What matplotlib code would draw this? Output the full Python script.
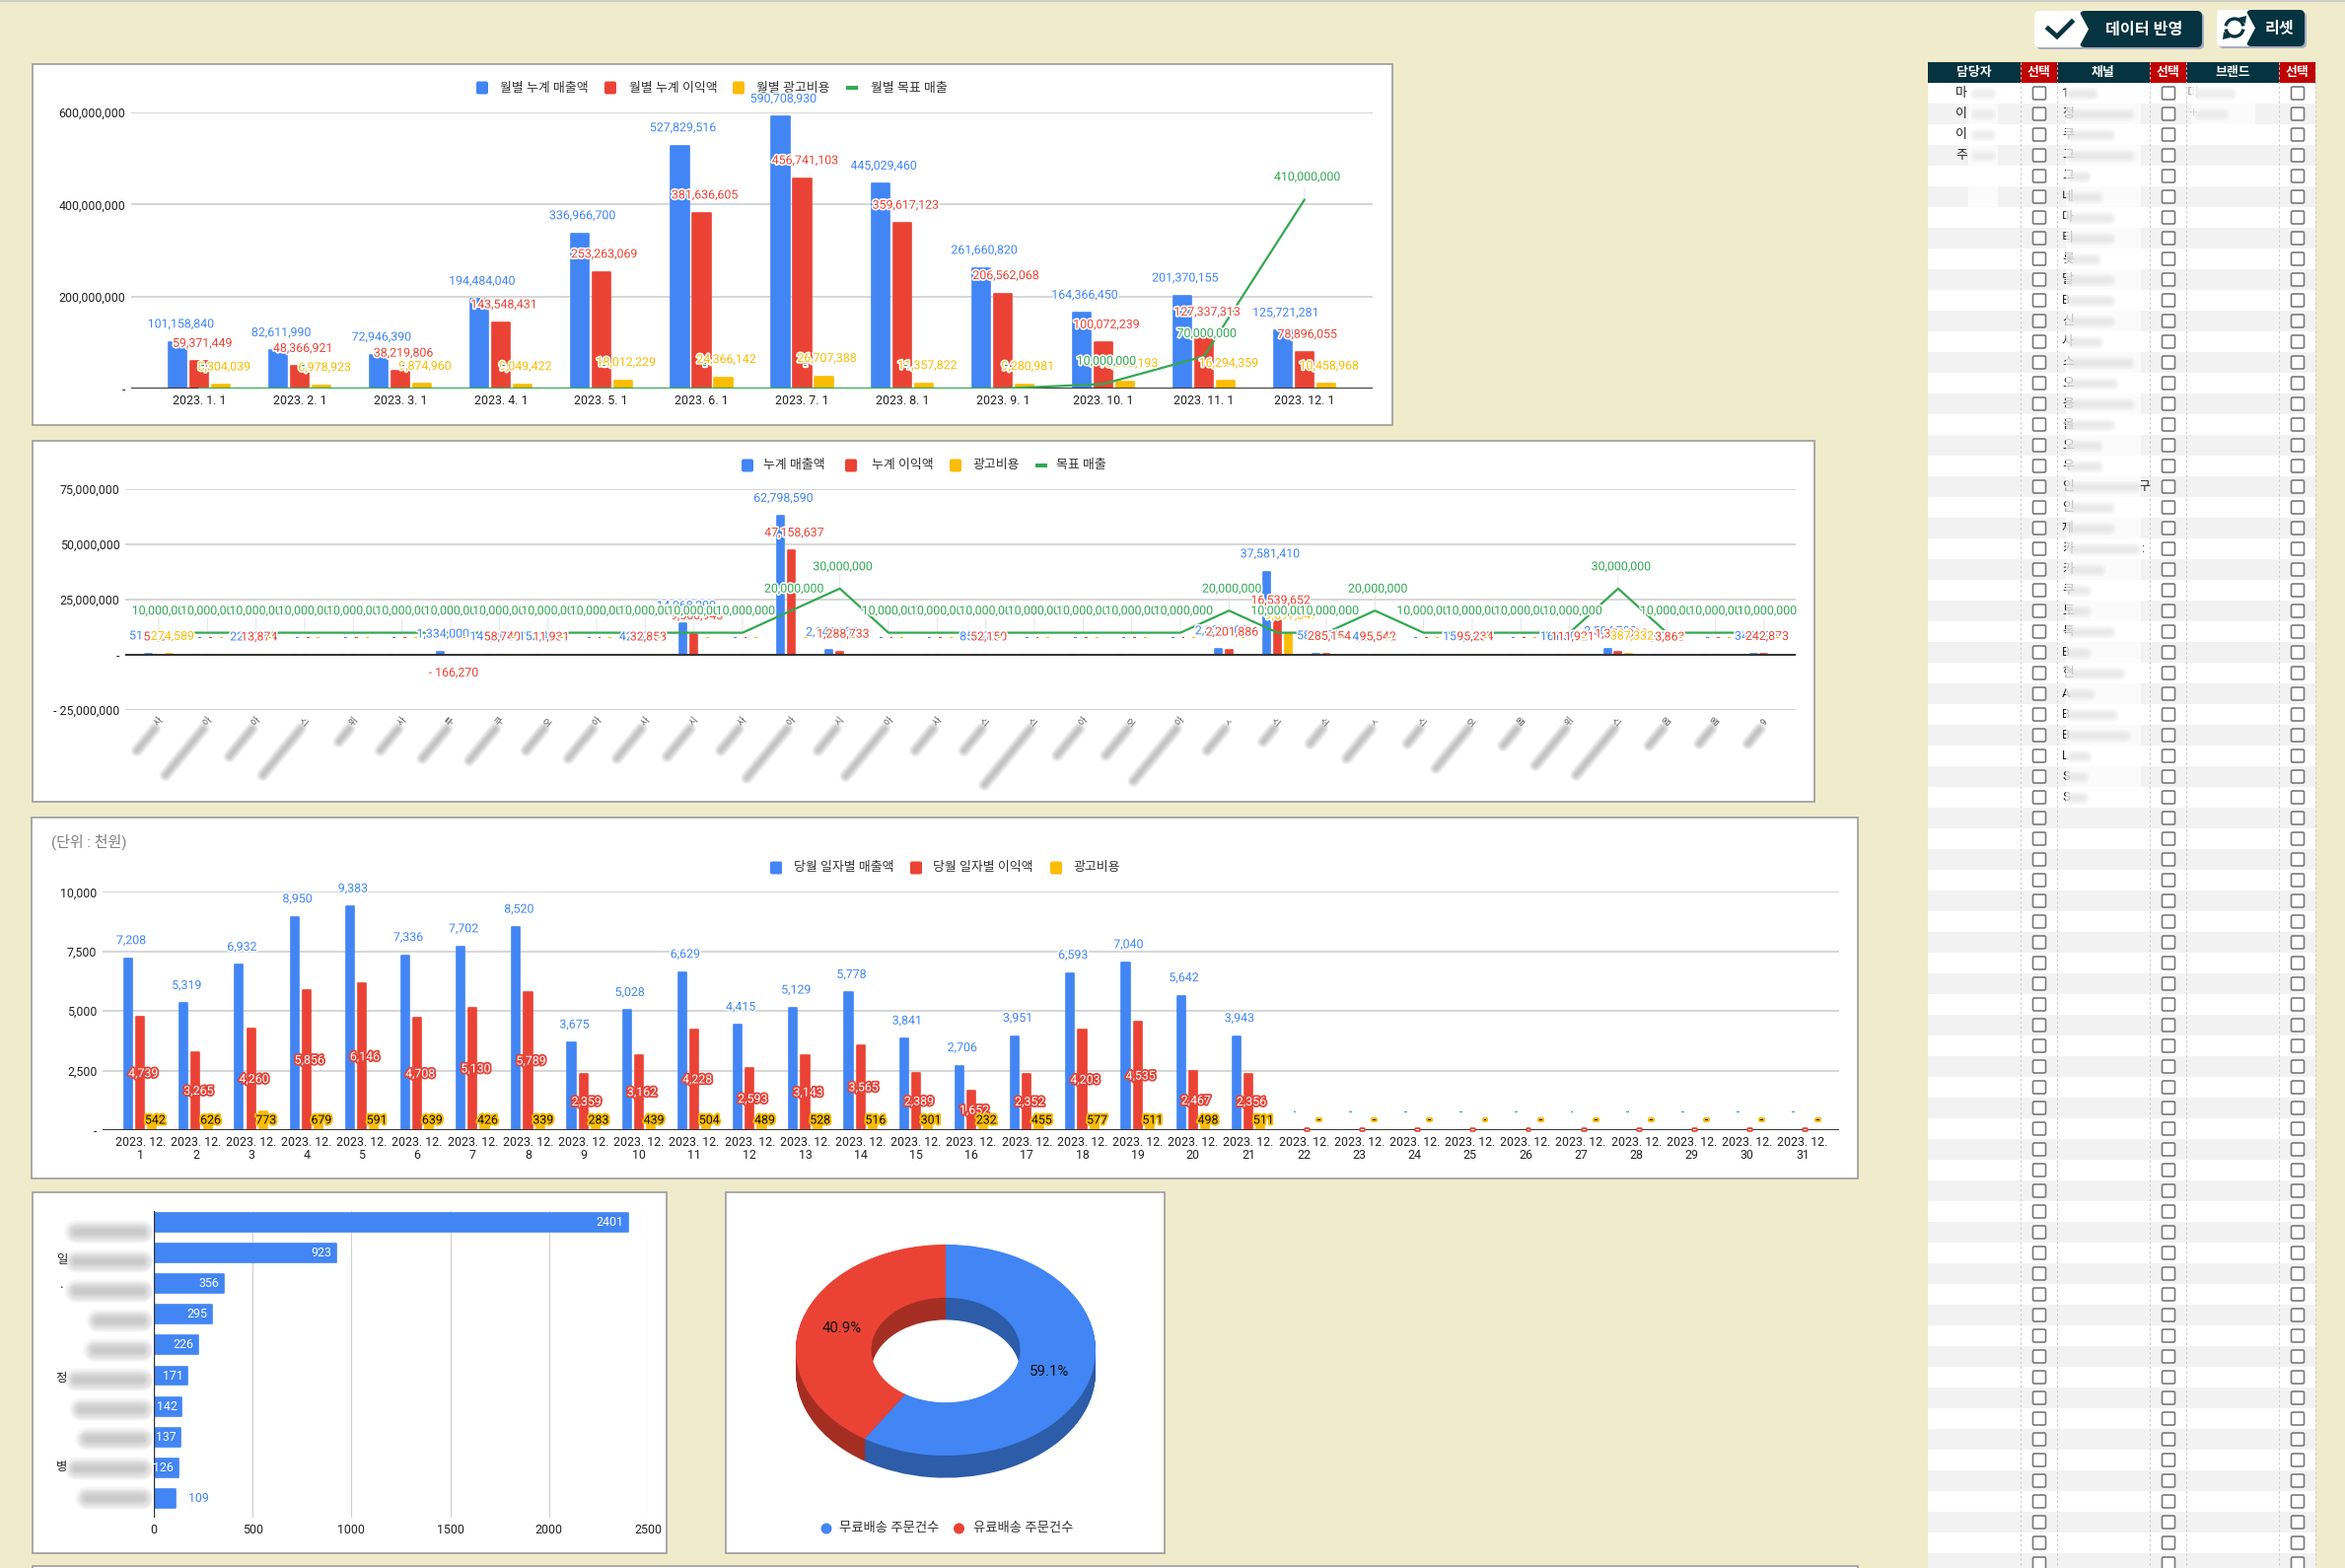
import numpy as np
import matplotlib
matplotlib.use('Agg')
import matplotlib.pyplot as plt
import matplotlib.patheffects as pe
from matplotlib.patches import Rectangle, FancyBboxPatch, Polygon, Arc, Circle

plt.rcParams['font.family'] = ['Roboto', 'Noto Sans CJK KR', 'DejaVu Sans']

# monthly chart
months = ['2023. 1. 1', '2023. 2. 1', '2023. 3. 1', '2023. 4. 1', '2023. 5. 1', '2023. 6. 1',
          '2023. 7. 1', '2023. 8. 1', '2023. 9. 1', '2023. 10. 1', '2023. 11. 1', '2023. 12. 1']
month_sales = [101158840, 82611990, 72946390, 194484040, 336966700, 527829516,
               590708930, 445029460, 261660820, 164366450, 201370155, 125721281]
month_profit = [59371449, 48366921, 38219806, 143548431, 253263069, 381636605,
                456741103, 359617123, 206562068, 100072239, 127337313, 78896055]
month_ads = [8304039, 6978923, 9874960, 9049422, 18012229, 24366142,
             26707388, 11357822, 9280981, 15800193, 16294359, 10458968]
month_target = [0, 0, 0, 0, 0, 0, 0, 0, 0, 10000000, 70000000, 410000000]

# channel chart (channel names are blurred in the source)
chan_sales = [519200, 0, 22300, 0, 0, 0, 1334000, 146200, 152400, 0, 42100, 14068200,
              0, 62798590, 2141650, 0, 0, 85200, 0, 0, 0, 0, 2801108, 37581410,
              583000, 4210, 0, 153400, 0, 161300, 2504700, 4900, 0, 342100]
chan_profit = [52310, 0, 13874, 0, 0, 0, -166270, 58740, 11931, 0, 32853, 9560943,
               0, 47158637, 1288733, 0, 0, 52150, 0, 0, 0, 0, 2201886, 16539652,
               285154, 95542, 0, 95234, 0, 111921, 1350000, 3863, 0, 242873]
chan_ads = [274589, 0, 0, 0, 0, 0, 0, 0, 0, 0, 0, 0,
            0, 0, 0, 0, 0, 0, 0, 0, 0, 0, 0, 9697347,
            0, 0, 0, 0, 0, 0, 387332, 0, 0, 0]
chan_target = [10000000, 10000000, 10000000, 10000000, 10000000, 10000000, 10000000, 10000000,
               10000000, 10000000, 10000000, 10000000, 10000000, 20000000, 30000000, 10000000,
               10000000, 10000000, 10000000, 10000000, 10000000, 10000000, 20000000, 10000000,
               10000000, 20000000, 10000000, 10000000, 10000000, 10000000, 30000000, 10000000,
               10000000, 10000000]
chan_tips = ['사', '아', '아', '스', '위', '사', '투', '쿠', '오', '아', '사', '시',
             '사', '아', '시', '아', '사', '스', '스', '아', '오', '아', 'ㅅ', '스',
             '소', 'ㅅ', '스', '오', '옴', '위', '스', '옴', '옴', '9']
chan_blur_len = [22, 47, 28, 47, 13, 22, 30, 32, 22, 30, 30, 28, 22, 50, 22, 48, 22, 22,
                 57, 27, 27, 53, 22, 13, 15, 30, 15, 40, 17, 37, 47, 17, 15, 15]

# daily chart
days = ['2023. 12.\n%d' % d for d in range(1, 32)]
day_sales = [7208, 5319, 6932, 8950, 9383, 7336, 7702, 8520, 3675, 5028, 6629, 4415, 5129, 5778, 3841, 2706,
             3951, 6593, 7040, 5642, 3943, 0, 0, 0, 0, 0, 0, 0, 0, 0, 0]
day_profit = [4739, 3265, 4260, 5856, 6146, 4708, 5130, 5789, 2359, 3162, 4228, 2593, 3143, 3565, 2389, 1652,
              2352, 4203, 4535, 2467, 2356, 0, 0, 0, 0, 0, 0, 0, 0, 0, 0]
day_ads = [542, 626, 773, 679, 591, 639, 426, 339, 283, 439, 504, 489, 528, 516, 301, 232,
           455, 577, 511, 498, 511, 0, 0, 0, 0, 0, 0, 0, 0, 0, 0]

# top products and delivery split
prod_counts = [2401, 923, 356, 295, 226, 171, 142, 137, 126, 109]
prod_blur_left = [69, 69, 69, 91, 88, 69, 74, 80, 69, 80]
delivery_counts = [59.1, 40.9]
delivery_names = ['무료배송 주문건수', '유료배송 주문건수']

# filter table
managers = ['마', '이', '이', '주']
channels = ['1', '정', '쿠', '그', '그', '네', '마', '티', '롯', '달', 'B', '신', '사', '스', '오', '용', '올', '오',
            '우', '인', '인', '제', '카', '카', '쿠', '토', '톡', 'B', '현', 'A', 'B', 'B', 'L', 'S', 'S']
channel_ends = [25, 62, 42, 62, 17, 30, 42, 42, 28, 42, 42, 42, 30, 62, 45, 62, 42, 30,
                30, 68, 42, 42, 68, 32, 18, 18, 42, 18, 53, 22, 45, 58, 18, 15, 15]

BLUE, RED, YEL, GREEN = '#4285F4', '#EA4335', '#FBBC04', '#34A853'
BG = '#F0EBCB'
DARK = '#05333F'
W, H = 2378, 1590
FS = 8.9
FS_LEG = 9.3

fig = plt.figure(figsize=(W / 100, H / 100), dpi=100, facecolor=BG)


def px_axes(x0, y0, x1, y1, zorder=2):
    ax = fig.add_axes([x0 / W, 1 - y1 / H, (x1 - x0) / W, (y1 - y0) / H], zorder=zorder)
    ax.patch.set_alpha(0)
    return ax


bg = px_axes(0, 0, W, H, zorder=1)
bg.set_xlim(0, W); bg.set_ylim(H, 0); bg.axis('off')
fg = px_axes(0, 0, W, H, zorder=5)
fg.set_xlim(0, W); fg.set_ylim(H, 0); fg.axis('off')


def fmt(v):
    if v == 0:
        return '-'
    if v < 0:
        return '- {:,}'.format(-v)
    return '{:,}'.format(v)


def label(ax, x, y, s, color, dy=18, dx=3, halo='white', lw=2.4, z=6):
    ax.annotate(s, (x, y), xytext=(dx, dy), textcoords='offset pixels', ha='center', va='center',
                fontsize=FS, color=color, annotation_clip=False, zorder=z,
                path_effects=[pe.withStroke(linewidth=lw, foreground=halo)])


def rbars(ax, x, h, w, color):
    # round join on the edge gives the soft corners of the source bars
    bars = ax.bar(x, h, w, color=color, edgecolor=color, linewidth=1.2, zorder=3)
    for b in bars:
        b.set_joinstyle('round')


def panel(x0, y0, x1, y1):
    bg.add_patch(Rectangle((x0, y0), x1 - x0, y1 - y0, fc='white', ec='#9C9C9C', lw=1.2, zorder=1))


def legend(items, y):
    for sx, tx, name, col in items:
        if col == GREEN:
            bg.add_patch(Rectangle((sx, y - 2), 12, 4, fc=col, ec='none', zorder=2))
        else:
            bg.add_patch(FancyBboxPatch((sx, y - 6.5), 12, 13, boxstyle='round,pad=0,rounding_size=2',
                                        fc=col, ec='none', zorder=2))
        bg.text(tx, y, name, fontsize=FS_LEG, color='#333333', va='center', ha='left', zorder=2)


def style_axes(ax, xlim, ylim, yticks, ylabels):
    ax.set_xlim(*xlim); ax.set_ylim(*ylim)
    ax.set_yticks(yticks); ax.set_yticklabels(ylabels)
    ax.tick_params(length=0, labelsize=FS, labelcolor='#222222', pad=4)
    ax.yaxis.grid(True, color='#CCCCCC', lw=1.1)
    ax.set_axisbelow(True)
    for s in ax.spines.values():
        s.set_visible(False)
    ax.axhline(0, color='#333333', lw=1.4, zorder=3.5)


def blur(x0, y0, x1, y1, w=13, c='#707070', a=0.04, ax=fg):
    for f in np.linspace(1, 0.2, 12):
        ax.plot([x0, x1], [y0, y1], color=c, alpha=a, lw=w * f * 0.72, solid_capstyle='round', zorder=3)


def draw_target(ax, xs, vals, dy, rise):
    ax.plot(xs, vals, color=GREEN, lw=1.6, zorder=4)
    for x, v in zip(xs, vals):
        if v:
            ax.annotate('', xy=(x, v), xytext=(0, rise), textcoords='offset pixels', annotation_clip=False,
                        arrowprops=dict(arrowstyle='-', color='#E4E4E4', lw=0.7, shrinkA=0, shrinkB=0), zorder=2)
    for x, v in zip(xs, vals):
        label(ax, x, v, fmt(v), GREEN, dy=dy, z=7)


# ---- chart 1
panel(33, 65, 1412, 431)
ax = px_axes(133, 114, 1392, 394)
x = np.arange(len(months))
rbars(ax, x - 0.216, month_sales, 0.18, BLUE)
rbars(ax, x, month_profit, 0.18, RED)
rbars(ax, x + 0.216, month_ads, 0.18, YEL)
style_axes(ax, (-0.68, 11.68), (0, 600000000), [0, 200000000, 400000000, 600000000],
           ['-', '200,000,000', '400,000,000', '600,000,000'])
ax.set_xticks(x); ax.set_xticklabels(months)
for off, vals, col in [(-0.216, month_sales, BLUE), (0, month_profit, RED), (0.216, month_ads, YEL)]:
    for i, v in zip(x, vals):
        label(ax, i + off, v, fmt(v), col)
draw_target(ax, x, month_target, 23, 12)
legend([(483, 507, '월별 누계 매출액', BLUE), (613, 638, '월별 누계 이익액', RED),
        (743, 767, '월별 광고비용', YEL), (858, 883, '월별 목표 매출', GREEN)], 89)

# ---- chart 2
panel(33, 447, 1840, 813)
ax = px_axes(127, 496, 1821.5, 720)
x = np.arange(len(chan_sales))
rbars(ax, x - 0.22, chan_sales, 0.14, BLUE)
rbars(ax, x, chan_profit, 0.14, RED)
rbars(ax, x + 0.22, chan_ads, 0.14, YEL)
style_axes(ax, (-0.69, 33.66), (-25000000, 75000000), [-25000000, 0, 25000000, 50000000, 75000000],
           ['- 25,000,000', '-', '25,000,000', '50,000,000', '75,000,000'])
ax.set_xticks([])
for off, vals, col in [(-0.22, chan_sales, BLUE), (0, chan_profit, RED), (0.22, chan_ads, YEL)]:
    for i, v in zip(x, vals):
        if v < 0:
            label(ax, i + off, v, fmt(v), col, dy=-18)
        else:
            label(ax, i + off, v, fmt(v), col, dy=18 if v else 17)
draw_target(ax, x, chan_target, 22, 15)
legend([(752, 774, '누계 매출액', BLUE), (857, 884, '누계 이익액', RED),
        (963, 986, '광고비용', YEL), (1050, 1071, '목표 매출', GREEN)], 472)
for i, (tip, n) in enumerate(zip(chan_tips, chan_blur_len)):
    tx = 161 + 49.33 * i
    fg.text(tx, 732, tip, fontsize=6.5, rotation=50, ha='center', va='center', color='#555555')
    blur(tx - 4, 739, tx - 4 - 0.82 * n, 739 + n)

# ---- chart 3
panel(32, 829, 1884, 1195)
ax = px_axes(104, 904.3, 1865, 1146)
x = np.arange(len(days))
rbars(ax, x - 0.217, day_sales, 0.145, BLUE)
rbars(ax, x, day_profit, 0.145, RED)
rbars(ax, x + 0.217, day_ads, 0.145, YEL)
style_axes(ax, (-0.68, 30.66), (0, 10000), [0, 2500, 5000, 7500, 10000],
           ['-', '2,500', '5,000', '7,500', '10,000'])
ax.set_xticks(x); ax.set_xticklabels(days, linespacing=1.0)
for i, v in zip(x, day_sales):
    label(ax, i - 0.217, v, fmt(v), BLUE)
for i, v in zip(x, day_profit):
    label(ax, i, v / 2, fmt(v), 'white', dy=0, halo='#E2453A', lw=2.6)
for i, v in zip(x, day_ads):
    label(ax, i + 0.217, 0, fmt(v), '#111111', dy=10, halo=YEL, lw=3)
bg.text(52, 854, '(단위 : 천원)', fontsize=10.8, color='#808080', va='center')
legend([(781, 805, '당월 일자별 매출액', BLUE), (923, 946, '당월 일자별 이익액', RED),
        (1065, 1088, '광고비용', YEL)], 880)

# ---- chart 4
panel(33, 1209, 676, 1575)
ax = px_axes(156, 1228, 657, 1539)
y = np.arange(len(prod_counts))
bars = ax.barh(y, prod_counts, 0.61, color=BLUE, edgecolor=BLUE, linewidth=1.2, zorder=3)
for b in bars:
    b.set_joinstyle('round')
ax.set_xlim(0, 2500); ax.set_ylim(9.63, -0.37)
ax.set_xticks([0, 500, 1000, 1500, 2000, 2500]); ax.set_yticks([])
ax.tick_params(length=0, labelsize=FS, labelcolor='#222222', pad=4)
ax.xaxis.grid(True, color='#CFCFCF', lw=0.8); ax.set_axisbelow(True)
for s in ax.spines.values():
    s.set_visible(False)
ax.axvline(0, color='#333333', lw=1, zorder=4)
for i, v in zip(y, prod_counts):
    if v > 110:
        ax.annotate(str(v), (v, i), xytext=(-5, 0), textcoords='offset pixels', ha='right', va='center',
                    fontsize=FS, color='white', zorder=5)
    else:
        ax.annotate(str(v), (v, i), xytext=(13, 0), textcoords='offset pixels', ha='left', va='center',
                    fontsize=FS, color=BLUE, zorder=5)
for i, (left, tip) in enumerate(zip(prod_blur_left, ['', '일', 'ㆍ', '', '', '정', '', '', '병', ''])):
    yy = 1249 + 30 * i
    if tip:
        fg.text(68, yy - 2, tip, fontsize=FS, ha='right', va='center', color='#222222')
    blur(left + 8, yy, 144, yy, w=24, c='#808080', a=0.04)

# ---- chart 5
panel(736, 1209, 1181, 1575)
ax = px_axes(807, 1262, 1111, 1498.6)
for k in np.linspace(0.211, 0.004, 26):
    ax.pie(delivery_counts, colors=['#2D5CA8', '#A52E23'], center=(0, -k), radius=1, startangle=90,
           counterclock=False, wedgeprops=dict(width=0.503, linewidth=0))
ax.pie(delivery_counts, colors=[BLUE, RED], center=(0, 0), radius=1, startangle=90, counterclock=False,
       autopct='%.1f%%', pctdistance=0.72, wedgeprops=dict(width=0.503, linewidth=0),
       textprops=dict(fontsize=10.8, color='#111111'))
ax.set_aspect('auto')
ax.set_xlim(-1, 1); ax.set_ylim(-1.211, 1)
for sx, tx, name, col in [(838, 851, delivery_names[0], BLUE), (972.5, 987, delivery_names[1], RED)]:
    bg.add_patch(Circle((sx, 1550), 5.5, fc=col, ec='none', zorder=2))
    bg.text(tx, 1550, name, fontsize=9.6, color='#333333', va='center', zorder=2)

# next panel just showing at the bottom
bg.add_patch(Rectangle((33, 1588), 1851, 10, fc='white', ec='#9C9C9C', lw=1.2, zorder=1))
bg.plot([0, W], [0.5, 0.5], color='#C8C8C8', lw=1.2, zorder=1)

# ---- table
cols = [1955, 2049, 2086, 2180, 2217, 2311, 2348]
heads = ['담당자', '선택', '채널', '선택', '브랜드', '선택']
n_rows = 72
for r in range(n_rows):
    bg.add_patch(Rectangle((1955, 84 + 21 * r), 393, 21, fc='white' if r % 2 == 0 else '#F2F2F2', ec='none', zorder=1))
for c0, c1, name in zip(cols[:-1], cols[1:], heads):
    bg.add_patch(Rectangle((c0, 63), c1 - c0, 21, fc='#C00000' if name == '선택' else DARK, ec='none', zorder=2))
    bg.text((c0 + c1) / 2, 73, name, color='white', fontsize=9.3, fontweight='bold', ha='center', va='center', zorder=3)
for c in cols[1:]:
    bg.plot([c, c], [63, H], color='#CACACA', lw=0.7, ls=(0, (2.5, 2.5)), zorder=2.5)
for cx in [2068, 2199, 2330]:
    for r in range(n_rows):
        bg.add_patch(FancyBboxPatch((cx - 6.5, 94.5 + 21 * r - 6.5), 13, 13, boxstyle='round,pad=0,rounding_size=1.5',
                                    fc='white', ec='#7A7A7A', lw=1.2, zorder=3))
for r, s in enumerate(managers):
    bg.text(1989, 94.5 + 21 * r, s, fontsize=9.3, ha='center', va='center', color='#222222', zorder=3)
for r, s in enumerate(channels):
    bg.text(2091, 94.5 + 21 * r, s, fontsize=9.3, ha='left', va='center', color='#222222', zorder=3)
bg.text(2174, 94.5 + 21 * 19, '구', fontsize=9.3, ha='center', va='center', color='#222222', zorder=3)
bg.text(2173, 94.5 + 21 * 22, ':', fontsize=9.3, ha='center', va='center', color='#222222', zorder=3)
bg.add_patch(Rectangle((1996, 84), 30, 128, fc='white', alpha=0.75, ec='none', zorder=3.5))
bg.add_patch(Rectangle((2095, 84), 76, 21 * 35, fc='white', alpha=0.7, ec='none', zorder=3.5))
bg.add_patch(Rectangle((2222, 86), 65, 55, fc='white', alpha=0.75, ec='none', zorder=3.5))
for r, n in enumerate(channel_ends):
    blur(2101, 94.5 + 21 * r, 2097 + n, 94.5 + 21 * r, w=14, c='#707070', a=0.05, ax=bg)
for r in range(4):
    blur(2004, 94.5 + 21 * r, 2018, 94.5 + 21 * r, w=14, c='#707070', a=0.05, ax=bg)
for yy, x1 in [(94.5, 2262), (115.5, 2255)]:
    blur(2231, yy, x1, yy, w=14, c='#707070', a=0.05, ax=bg)
bg.text(2224, 94.5, '미', fontsize=9.3, ha='center', va='center', color='#999999', zorder=3)
bg.text(2224, 115.5, '+', fontsize=9.3, ha='center', va='center', color='#666666', zorder=3)


# ---- buttons
def button(x0, y0, x1, y1, xc, text, tx):
    bg.add_patch(FancyBboxPatch((x0 + 2, y0 + 2), x1 - x0, y1 - y0, boxstyle='round,pad=0,rounding_size=5',
                                fc='#A9ABC4', ec='none', zorder=2))
    bg.add_patch(FancyBboxPatch((x0, y0), x1 - x0, y1 - y0, boxstyle='round,pad=0,rounding_size=5',
                                fc='white', ec='none', zorder=2.1))
    bg.add_patch(FancyBboxPatch((xc, y0), x1 - xc, y1 - y0, boxstyle='round,pad=0,rounding_size=5',
                                fc=DARK, ec='none', zorder=2.2))
    bg.add_patch(Polygon([(xc - 1, y0), (xc + 9, (y0 + y1) / 2), (xc - 1, y1)], fc='white', ec='none', zorder=2.3))
    bg.text(tx, (y0 + y1) / 2 + 1, text, color='white', fontsize=11.6, fontweight='bold', ha='center', va='center', zorder=3)


button(2063, 11, 2233, 48, 2109, '데이터 반영', 2174)
button(2248, 10, 2337, 47, 2278, '리셋', 2311)
bg.plot([2077, 2086, 2101], [29, 37, 22], color=DARK, lw=3.4, zorder=3, solid_joinstyle='miter')
bg.add_patch(Arc((2266, 28), 18, 18, theta1=190, theta2=350, color=DARK, lw=2.4, zorder=3))
bg.add_patch(Arc((2266, 28), 18, 18, theta1=10, theta2=170, color=DARK, lw=2.4, zorder=3))
bg.add_patch(Polygon([(2270, 18), (2277, 24), (2278, 16)], fc=DARK, ec='none', zorder=3))
bg.add_patch(Polygon([(2262, 38), (2255, 32), (2254, 40)], fc=DARK, ec='none', zorder=3))

fig.savefig('out.png', dpi=100, facecolor=BG)
